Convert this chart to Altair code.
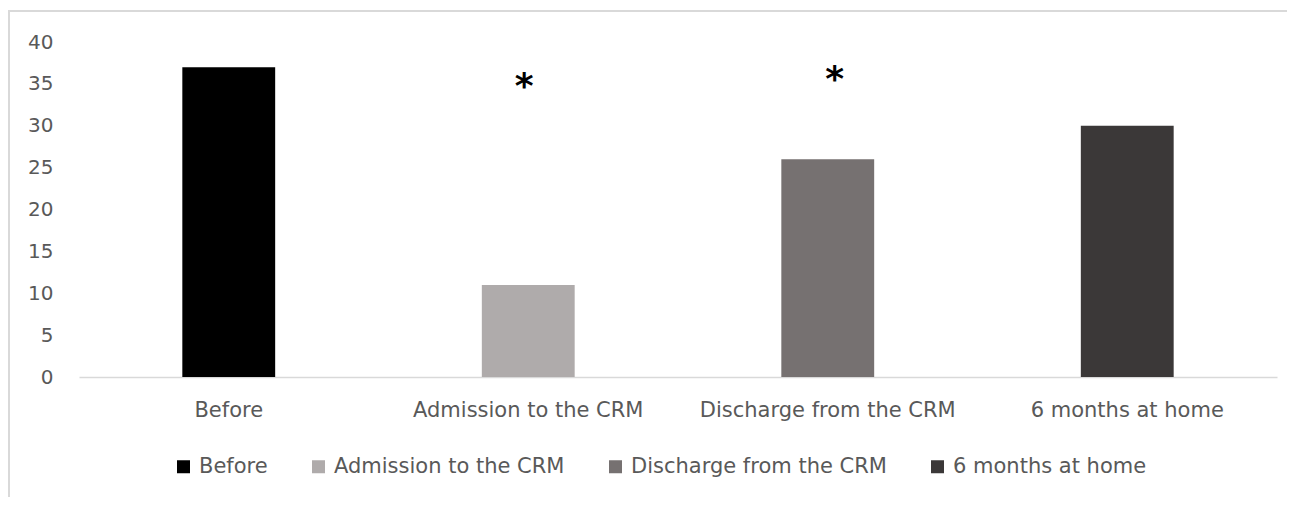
import altair as alt
import pandas as pd

categories = ["Before", "Admission to the CRM", "Discharge from the CRM", "6 months at home"]
values = [37, 11, 26, 30]
colors = ["#000000", "#afabab", "#767171", "#3b3838"]

star_categories = ["Admission to the CRM", "Discharge from the CRM"]
star_values = [35, 35.8]
star_dx = [-4, 7]

bars_df = pd.DataFrame({"category": categories, "value": values})

FONT = "DejaVu Sans"
W, H = 1198, 335

x_enc = alt.X(
    "category:N",
    sort=categories,
    scale=alt.Scale(paddingInner=0.69, paddingOuter=0.345),
    axis=alt.Axis(
        title=None, labelAngle=0, ticks=False, domainColor="#d9d9d9", domainWidth=1.5,
        labelColor="#595959", labelFont=FONT, labelFontSize=21, labelPadding=22, labelLimit=0,
    ),
)

bars = alt.Chart(bars_df).mark_bar().encode(
    x=x_enc,
    y=alt.Y(
        "value:Q",
        scale=alt.Scale(domain=[0, 40]),
        axis=alt.Axis(
            title=None, values=[0, 5, 10, 15, 20, 25, 30, 35, 40], grid=False, domain=False,
            ticks=False, labelColor="#595959", labelFont=FONT, labelFontSize=20, labelPadding=26,
        ),
    ),
    color=alt.Color(
        "category:N",
        sort=categories,
        scale=alt.Scale(domain=categories, range=colors),
        legend=alt.Legend(
            title=None, orient="none", direction="horizontal", legendX=94, legendY=414,
            symbolType="square", symbolSize=169, symbolStrokeWidth=0, labelFont=FONT,
            labelFontSize=21, labelColor="#595959", labelOffset=5, columnPadding=40,
            padding=0, columns=4, labelLimit=0,
        ),
    ),
)

star_layers = []
for cat, val, dx in zip(star_categories, star_values, star_dx):
    sdf = pd.DataFrame({"category": [cat], "value": [val]})
    star_layers.append(
        alt.Chart(sdf).mark_text(
            text="*", font=FONT, fontSize=36, fontWeight="bold", color="#000000",
            baseline="alphabetic", dy=14, dx=dx,
        ).encode(
            x=alt.X("category:N", sort=categories),
            y=alt.Y("value:Q"),
        )
    )

frame_left = alt.Chart(bars_df).mark_rule(color="#d9d9d9", strokeWidth=2).encode(
    x=alt.value(-70), y=alt.value(-31), y2=alt.value(480)
)
frame_top = alt.Chart(bars_df).mark_rule(color="#d9d9d9", strokeWidth=2).encode(
    x=alt.value(-71), x2=alt.value(1230), y=alt.value(-31)
)

chart = alt.layer(bars, *star_layers, frame_left, frame_top).properties(
    width=W, height=H,
    background="white",
    autosize=alt.AutoSizeParams(type="none"),
    padding={"left": 71, "top": 34, "right": 10, "bottom": 120},
).configure_view(stroke=None, strokeWidth=0)

chart.save("out.html", embed_options={"renderer": "svg", "actions": False})
